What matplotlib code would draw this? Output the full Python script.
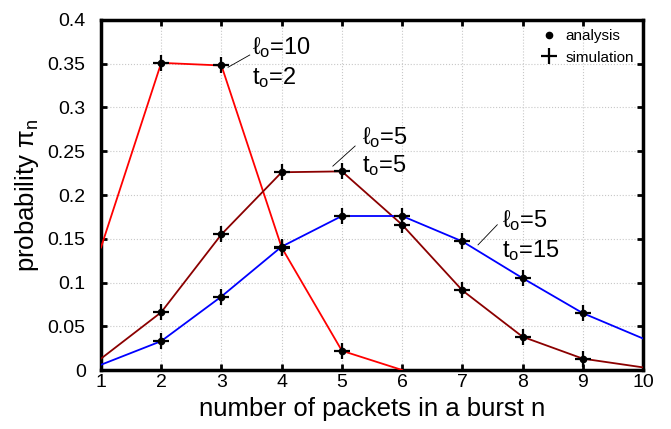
import matplotlib
matplotlib.use("Agg")
import matplotlib.pyplot as plt

plt.rcParams['font.family'] = ['Liberation Sans', 'DejaVu Sans']
plt.rcParams['mathtext.default'] = 'regular'

n_red = [1, 2, 3, 4, 5, 6]
p_red = [0.140, 0.351, 0.348, 0.140, 0.022, 0.0]
n_all = [1, 2, 3, 4, 5, 6, 7, 8, 9, 10]
p_dark = [0.013, 0.066, 0.155, 0.226, 0.227, 0.166, 0.091, 0.038, 0.013, 0.003]
p_blue = [0.006, 0.033, 0.084, 0.141, 0.176, 0.176, 0.147, 0.105, 0.065, 0.036]

mark_idx_red = [1, 2, 3, 4]
mark_idx_all = [1, 2, 3, 4, 5, 6, 7, 8]

fig = plt.figure(figsize=(6.71, 4.29), dpi=100)
ax = fig.add_axes([0.1505, 0.1375, 0.8078, 0.8159])

ax.grid(True, color='#c8c8c8', linestyle=':', linewidth=0.8)
ax.set_axisbelow(True)

for xs, ys, col, idx in [(n_red, p_red, '#ff0000', mark_idx_red),
                         (n_all, p_dark, '#8b0000', mark_idx_all),
                         (n_all, p_blue, '#0000ff', mark_idx_all)]:
    ax.plot(xs, ys, color=col, lw=1.3, zorder=3)
    mx = [xs[i] for i in idx]
    my = [ys[i] for i in idx]
    ax.plot(mx, my, ls='none', marker='o', ms=4.5, color='black', zorder=4)
    ax.plot(mx, my, ls='none', marker='+', ms=12, mew=1.6, color='black', zorder=4)

ax.set_xlim(1, 10)
ax.set_ylim(0, 0.4)
ax.set_xticks(range(1, 11))
ax.set_yticks([0, 0.05, 0.1, 0.15, 0.2, 0.25, 0.3, 0.35, 0.4])
ax.set_yticklabels(['0', '0.05', '0.1', '0.15', '0.2', '0.25', '0.3', '0.35', '0.4'])
ax.tick_params(axis='y', pad=11)
ax.tick_params(axis='x', pad=3)
ax.tick_params(direction='in', length=4, width=2, top=True, right=True,
               labelsize=14)
for s in ax.spines.values():
    s.set_linewidth(2.5)

ax.set_xlabel('number of packets in a burst n', fontsize=18.5, labelpad=4)
ax.set_ylabel('probability π$_n$', fontsize=18.5, labelpad=5)

fs = 17
ax.text(3.51, 0.368, 'ℓ$_o$=10', fontsize=fs, va='center', ha='left')
ax.text(3.51, 0.334, 't$_o$=2', fontsize=fs, va='center', ha='left')
ax.plot([3.11, 3.47], [0.346, 0.360], color='black', lw=0.6)

ax.text(5.33, 0.266, 'ℓ$_o$=5', fontsize=fs, va='center', ha='left')
ax.text(5.33, 0.234, 't$_o$=5', fontsize=fs, va='center', ha='left')
ax.plot([4.85, 5.22], [0.233, 0.256], color='black', lw=0.6)

ax.text(7.66, 0.171, 'ℓ$_o$=5', fontsize=fs, va='center', ha='left')
ax.text(7.66, 0.137, 't$_o$=15', fontsize=fs, va='center', ha='left')
ax.plot([7.26, 7.58], [0.143, 0.166], color='black', lw=0.6)

h1, = ax.plot([], [], ls='none', marker='o', ms=4.5, color='black')
h2, = ax.plot([], [], ls='none', marker='+', ms=12, mew=1.6, color='black')
ax.legend([h1, h2], ['analysis', 'simulation'], loc='upper right', frameon=False,
          fontsize=11, handlelength=1.0, handletextpad=0.6, labelspacing=0.5,
          borderaxespad=0.2)

fig.savefig('out.png', dpi=100)
